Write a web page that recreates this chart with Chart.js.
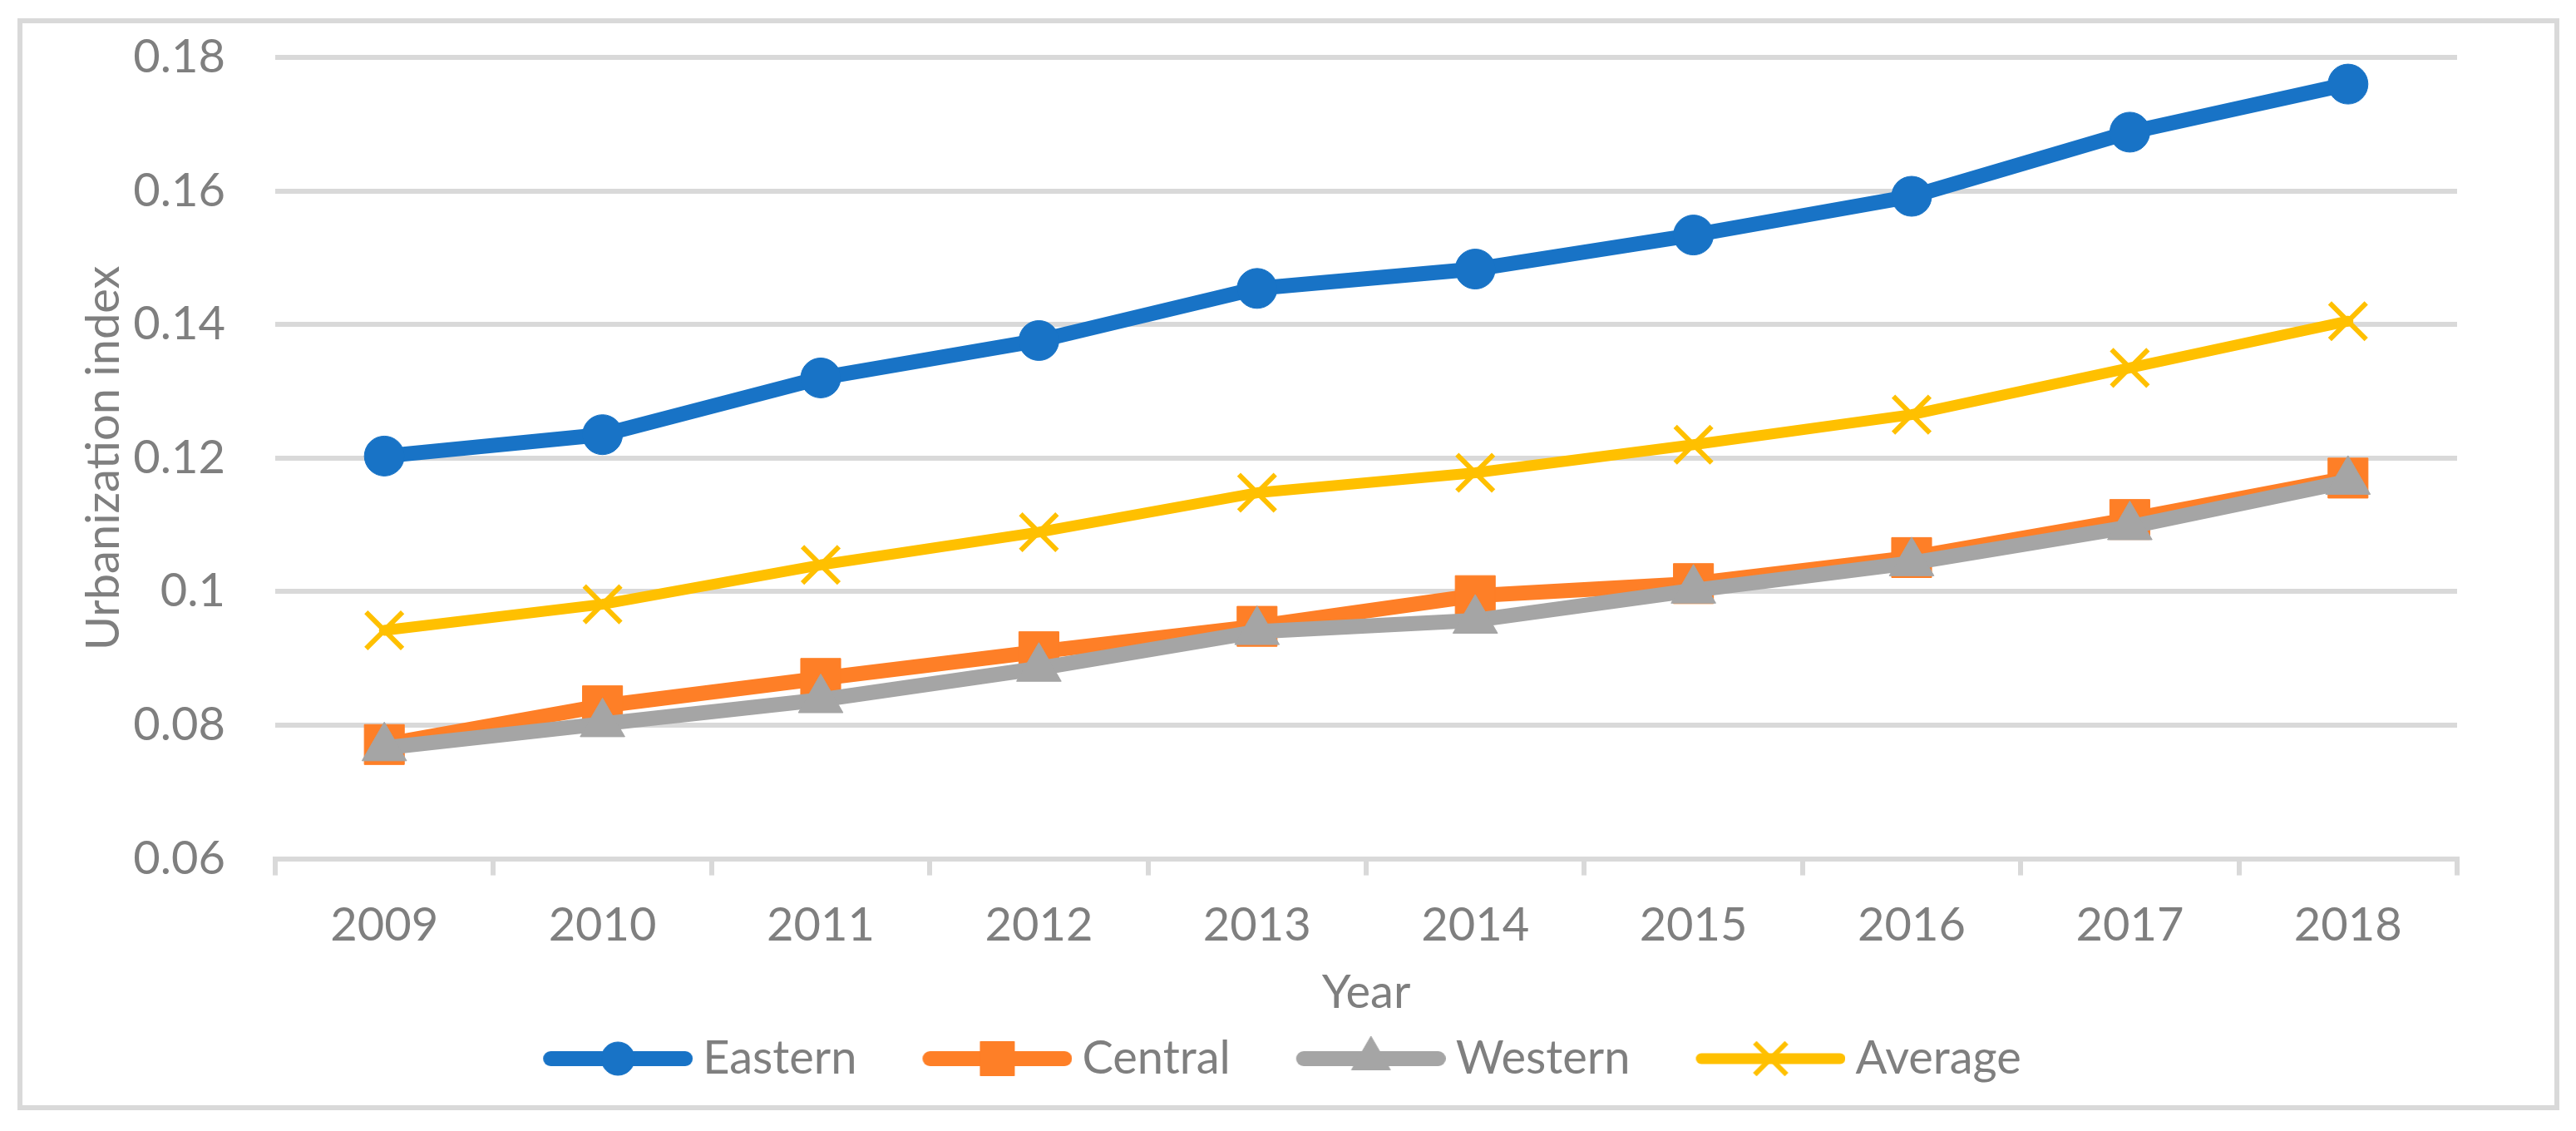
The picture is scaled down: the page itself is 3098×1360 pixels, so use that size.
<!DOCTYPE html>
<html>
<head>
<meta charset="utf-8">
<script src="https://cdn.jsdelivr.net/npm/chart.js@4.4.1/dist/chart.umd.min.js"></script>
<style>
  html, body { margin: 0; padding: 0; background: #fff; }
  #wrap { position: relative; width: 3098px; height: 1360px; }
  #frame { position: absolute; left: 21px; top: 22px; width: 3057px; height: 1313px;
           box-sizing: border-box; border: 6px solid #d9d9d9; }
  canvas { position: absolute; left: 0; top: 0; }
</style>
</head>
<body>
<div id="wrap">
  <div id="frame"></div>
  <canvas id="chart" width="3098" height="1360"></canvas>
</div>
<script>
// data
const years = ['2009', '2010', '2011', '2012', '2013', '2014', '2015', '2016', '2017', '2018'];
const eastern = [0.1203, 0.1235, 0.1320, 0.1376, 0.1454, 0.1483, 0.1534, 0.1592, 0.1688, 0.1760];
const central = [0.0771, 0.0829, 0.0870, 0.0910, 0.0948, 0.0994, 0.1012, 0.1051, 0.1108, 0.1170];
const western = [0.0766, 0.0802, 0.0838, 0.0885, 0.0940, 0.0957, 0.1002, 0.1043, 0.1097, 0.1165];
const average = [0.0942, 0.0981, 0.1040, 0.1089, 0.1148, 0.1178, 0.1220, 0.1265, 0.1335, 0.1405];
const yTicks = [0.06, 0.08, 0.1, 0.12, 0.14, 0.16, 0.18];

const textGrey = '#7f7f7f';
const gridGrey = '#d9d9d9';
const font = 'Lato';

// look of each series: colour, line width, marker and legend marker
const looks = [
  { name: 'Eastern', data: eastern, color: '#1873c6', width: 18, point: 'circle',   r: 24, bw: 1, legR: 20, order: 4 },
  { name: 'Central', data: central, color: '#fe7f27', width: 18, point: 'rect',     r: 34, bw: 1, legR: 29, order: 3 },
  { name: 'Western', data: western, color: '#a5a5a5', width: 18, point: 'triangle', r: 31, bw: 1, legR: 27, order: 2 },
  { name: 'Average', data: average, color: '#ffc000', width: 13, point: 'crossRot', r: 31, bw: 6, legR: 27, order: 1 }
];

// legend sample: a bit of line with the marker in the middle, like Excel does
function legendIcon(l) {
  const c = document.createElement('canvas');
  c.width = 265; c.height = 64;
  const g = c.getContext('2d');
  g.strokeStyle = l.color;
  g.fillStyle = l.color;
  g.lineCap = 'round';
  g.lineWidth = l.width;
  g.beginPath();
  g.moveTo(85 + l.width / 2, 32);
  g.lineTo(265 - l.width / 2, 32);
  g.stroke();
  g.lineCap = 'butt';
  g.lineWidth = l.bw;
  Chart.helpers.drawPoint(g, { pointStyle: l.point, radius: l.legR, rotation: 0, borderWidth: l.bw }, 175, 32);
  return c;
}
const icons = looks.map(legendIcon);

new Chart(document.getElementById('chart').getContext('2d'), {
  type: 'line',
  data: {
    labels: years,
    datasets: looks.map(l => ({
      label: l.name,
      data: l.data,
      order: l.order,
      borderColor: l.color,
      backgroundColor: l.color,
      borderWidth: l.width,
      borderJoinStyle: 'round',
      borderCapStyle: 'round',
      pointStyle: l.point,
      pointRadius: l.r,
      pointHoverRadius: l.r,
      pointBackgroundColor: l.color,
      pointBorderColor: l.color,
      pointBorderWidth: l.bw,
      tension: 0,
      fill: false
    }))
  },
  options: {
    responsive: false,
    animation: false,
    devicePixelRatio: 1,
    layout: { padding: { top: 69, right: 143, bottom: 49, left: 60 } },
    plugins: {
      tooltip: { enabled: false },
      legend: {
        position: 'bottom',
        labels: {
          color: textGrey,
          font: { family: font, size: 56 },
          usePointStyle: true,
          pointStyleWidth: 233,
          padding: 10,
          sort: (a, b) => a.datasetIndex - b.datasetIndex,
          generateLabels: chart => {
            const items = Chart.defaults.plugins.legend.labels.generateLabels(chart);
            items.forEach(it => { it.pointStyle = icons[it.datasetIndex]; });
            return items;
          }
        }
      }
    },
    scales: {
      x: {
        offset: true,
        grid: { offset: true, drawOnChartArea: false, drawTicks: true, tickLength: 20, color: gridGrey, lineWidth: 6 },
        border: { display: true, color: gridGrey, width: 6 },
        ticks: { color: textGrey, font: { family: font, size: 56 }, padding: 27, maxRotation: 0 },
        title: { display: true, text: 'Year', color: textGrey, font: { family: font, size: 56 }, padding: { top: -13, bottom: 7 } }
      },
      y: {
        min: yTicks[0],
        max: yTicks[yTicks.length - 1],
        afterBuildTicks: axis => { axis.ticks = yTicks.map(v => ({ value: v })); },
        afterFit: axis => { axis.width = 331 - 60; },
        // invisible tick marks keep the labels off the plot without padding the top
        grid: { drawTicks: true, tickLength: 60, tickColor: 'rgba(0,0,0,0)', color: gridGrey, lineWidth: 6 },
        border: { display: false },
        ticks: { color: textGrey, font: { family: font, size: 56 }, padding: 0, callback: v => String(+v.toFixed(2)) },
        title: { display: true, text: 'Urbanization index', color: textGrey, font: { family: font, size: 56 }, padding: { top: 31, bottom: 0 } }
      }
    }
  }
});
</script>
</body>
</html>
